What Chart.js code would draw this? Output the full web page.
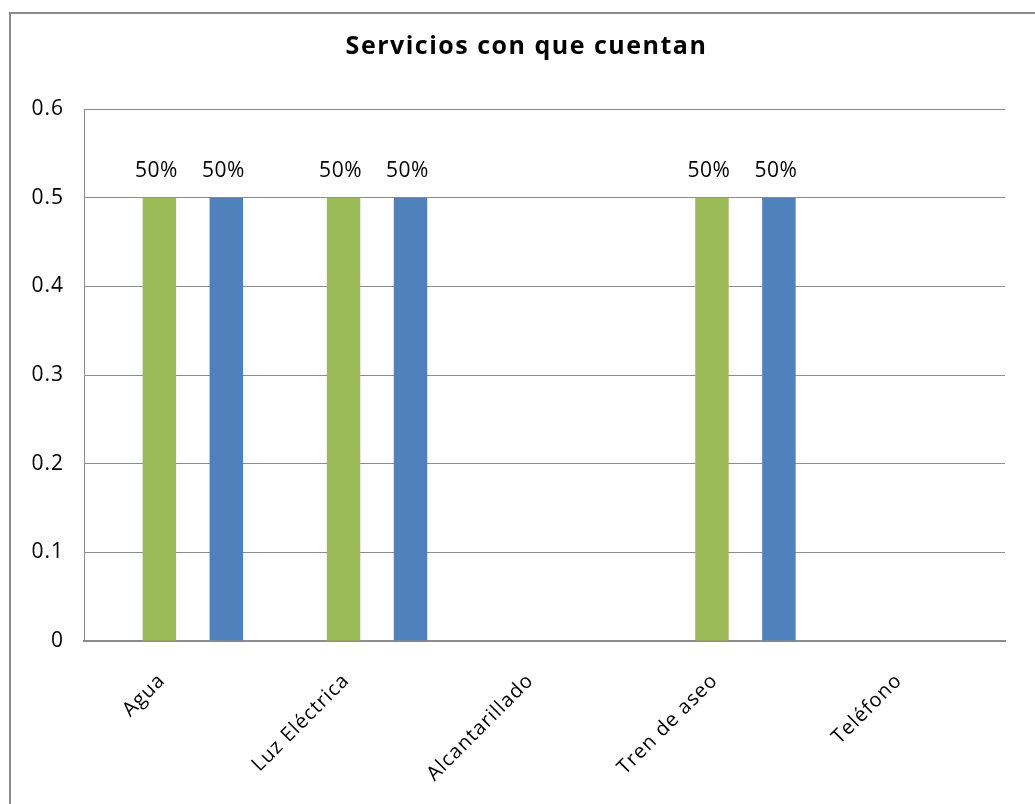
<!DOCTYPE html>
<html>
<head>
<meta charset="utf-8">
<script src="https://cdn.jsdelivr.net/npm/chart.js@4"></script>
<style>
    html, body { margin: 0; padding: 0; background: #fff; overflow: hidden; }
    #frame {
        position: absolute; left: 9px; top: 12px; width: 1100px; height: 900px;
        border-left: 2px solid #8c8c8c; border-top: 2px solid #8c8c8c;
    }
    #wrap { position: absolute; left: 0; top: 0; width: 1035px; height: 804px; }
</style>
</head>
<body>
<div id="frame"></div>
<div id="wrap"><canvas id="chart"></canvas></div>
<script>
const categories = ['Agua', 'Luz Eléctrica', 'Alcantarillado', 'Tren de aseo', 'Teléfono'];
// two visible series; Excel left empty slots around them
const seriesGreen = [0.5, 0.5, 0, 0.5, 0];
const seriesBlue = [0.5, 0.5, 0, 0.5, 0];
const emptySlot = [0, 0, 0, 0, 0];
const yTicks = [0, 0.1, 0.2, 0.3, 0.4, 0.5, 0.6];
const titleText = 'Servicios con que cuentan';

const FONT = '"Open Sans", "Liberation Sans", sans-serif';

// the original text is spaced out a little, give all canvas text some tracking
const spacing = {
    id: 'spacing',
    beforeDraw(chart) { chart.ctx.letterSpacing = '1px'; }
};

const titleDraw = {
    id: 'titleDraw',
    afterDraw(chart) {
        const ctx = chart.ctx;
        ctx.save();
        ctx.letterSpacing = '1.5px';
        ctx.font = 'bold 25px ' + FONT;
        ctx.fillStyle = '#000';
        ctx.textAlign = 'center';
        ctx.textBaseline = 'middle';
        ctx.fillText(titleText, chart.width / 2 + 9, 47);
        ctx.restore();
    }
};

const pctLabels = {
    id: 'pctLabels',
    afterDatasetsDraw(chart) {
        const ctx = chart.ctx;
        ctx.save();
        ctx.letterSpacing = '0.5px';
        ctx.font = '21px ' + FONT;
        ctx.fillStyle = '#000';
        ctx.textAlign = 'center';
        ctx.textBaseline = 'middle';
        chart.data.datasets.forEach((ds, i) => {
            if (!ds.showLabels) return;
            chart.getDatasetMeta(i).data.forEach((bar, j) => {
                const v = ds.data[j];
                if (!v) return;
                ctx.fillText(Math.round(v * 100) + '%', bar.x - 3, bar.y - 27);
            });
        });
        ctx.restore();
    }
};

new Chart(document.getElementById('chart'), {
    type: 'bar',
    data: {
        labels: categories,
        datasets: [
            { label: 'a', data: emptySlot, backgroundColor: 'transparent' },
            { label: 'Serie 1', data: seriesGreen, backgroundColor: '#9BBB59', showLabels: true },
            { label: 'b', data: emptySlot, backgroundColor: 'transparent' },
            { label: 'Serie 2', data: seriesBlue, backgroundColor: '#4F81BD', showLabels: true }
        ]
    },
    options: {
        responsive: true,
        maintainAspectRatio: false,
        animation: false,
        datasets: { bar: { categoryPercentage: 0.727, barPercentage: 1.0, borderWidth: 0 } },
        layout: { padding: { left: 0, right: 30, top: 109, bottom: 0 } },
        plugins: {
            legend: { display: false },
            tooltip: { enabled: false },
            title: { display: false }
        },
        scales: {
            x: {
                grid: { display: false, drawTicks: false },
                border: { display: true, color: '#8c8c8c', width: 2 },
                ticks: {
                    color: '#000',
                    font: { family: FONT, size: 20 },
                    maxRotation: 45, minRotation: 45,
                    padding: 28,
                    labelOffset: -14
                },
                afterFit(scale) { scale.height = 163; }
            },
            y: {
                min: 0, max: 0.6,
                afterBuildTicks(scale) { scale.ticks = yTicks.map(v => ({ value: v })); },
                grid: { color: '#8c8c8c', lineWidth: 1, drawTicks: false },
                border: { display: true, color: '#8c8c8c', width: 1 },
                ticks: {
                    color: '#000',
                    font: { family: FONT, size: 21 },
                    padding: 20,
                    callback: v => String(v)
                },
                afterFit(scale) { scale.width = 84; }
            }
        }
    },
    plugins: [spacing, pctLabels, titleDraw]
});
</script>
</body>
</html>
